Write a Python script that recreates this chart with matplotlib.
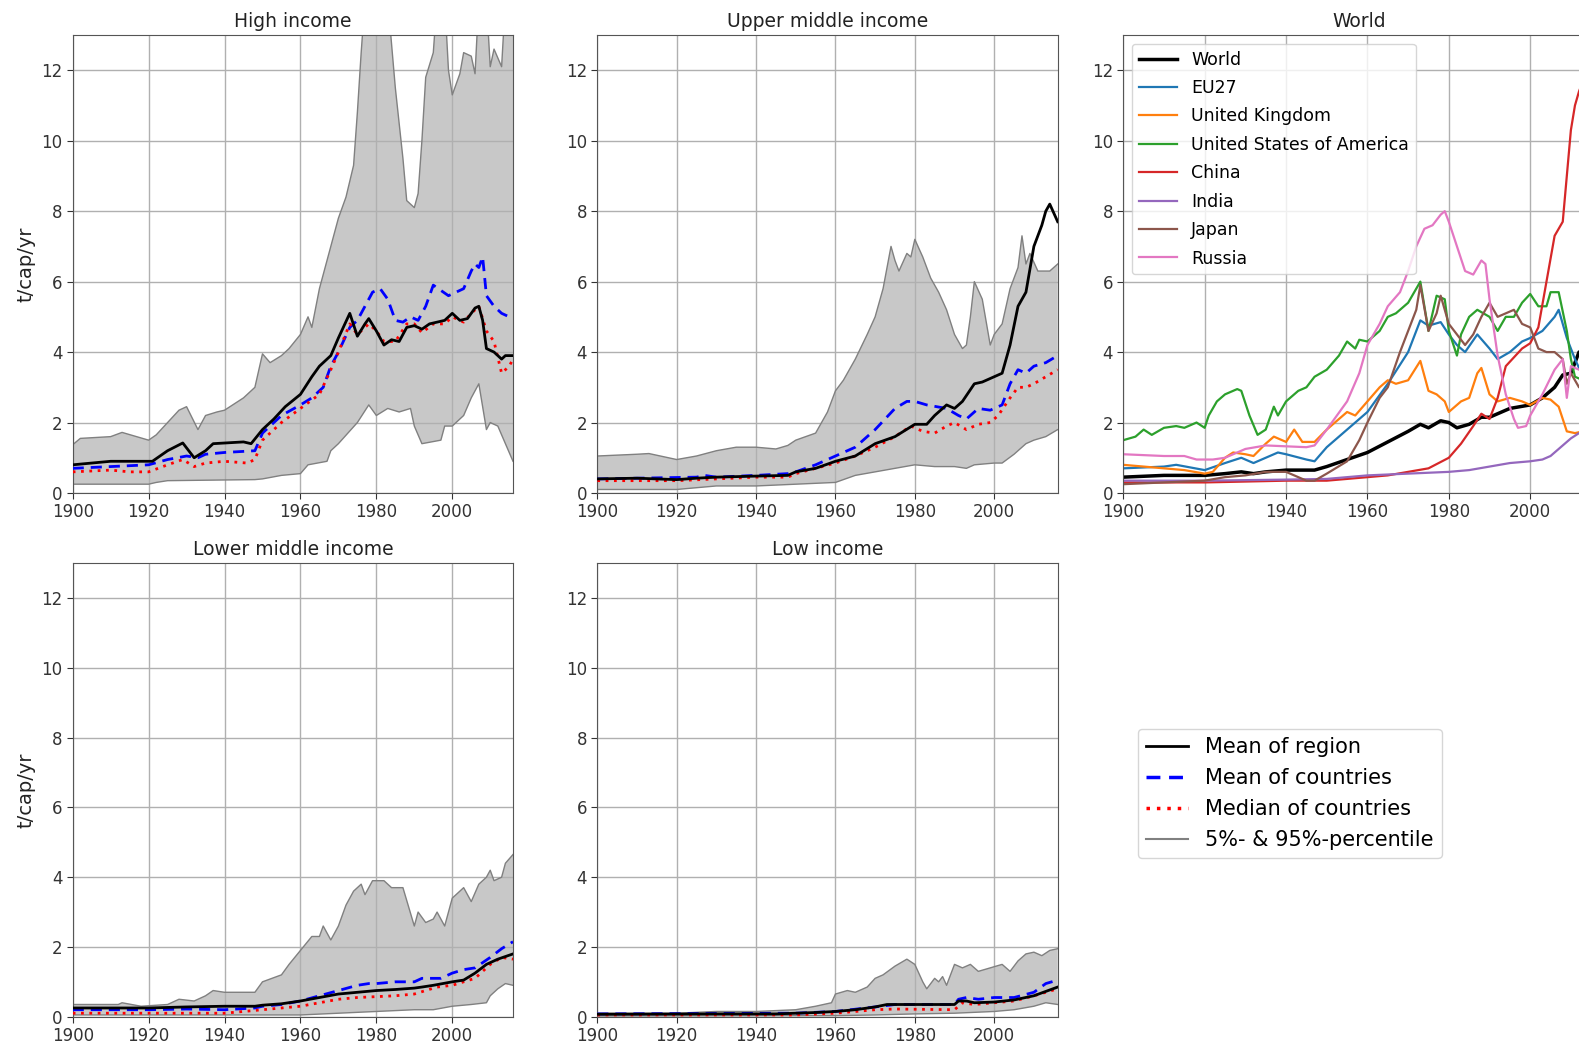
import numpy as np
import matplotlib
matplotlib.use("Agg")
import matplotlib.pyplot as plt
from matplotlib.lines import Line2D

# ---- data: (year, t/cap/yr) ----
hi_p95 = [(1900, 1.37), (1902, 1.55), (1910, 1.6), (1913, 1.72), (1920, 1.5), (1922, 1.65), (1925, 2.0),
          (1928, 2.35), (1930, 2.45), (1933, 1.8), (1935, 2.2), (1938, 2.3), (1940, 2.35), (1945, 2.7),
          (1948, 3.0), (1950, 3.95), (1952, 3.7), (1955, 3.9), (1957, 4.1), (1960, 4.5), (1962, 5.0),
          (1963, 4.7), (1965, 5.8), (1967, 6.6), (1968, 7.0), (1970, 7.8), (1972, 8.4), (1974, 9.3),
          (1975, 10.8), (1976, 12.5), (1977, 14.0), (1983, 14.0), (1985, 11.5), (1987, 9.5), (1988, 8.3),
          (1990, 8.1), (1991, 8.5), (1992, 10.0), (1993, 11.8), (1995, 12.5), (1996, 14.0), (1998, 14.0),
          (1999, 12.0), (2000, 11.3), (2001, 11.6), (2002, 11.9), (2003, 12.5), (2005, 12.4), (2006, 11.9),
          (2007, 14.0), (2009, 14.0), (2010, 12.1), (2011, 12.6), (2013, 12.1), (2014, 14.0), (2016, 14.0)]
hi_p5 = [(1900, 0.25), (1920, 0.25), (1922, 0.3), (1925, 0.35), (1948, 0.38), (1950, 0.4), (1955, 0.5),
         (1960, 0.55), (1962, 0.8), (1967, 0.9), (1968, 1.2), (1970, 1.4), (1975, 2.0), (1978, 2.5),
         (1980, 2.2), (1983, 2.4), (1986, 2.3), (1989, 2.4), (1990, 1.9), (1992, 1.4), (1997, 1.5),
         (1998, 1.9), (2000, 1.9), (2003, 2.2), (2005, 2.7), (2007, 3.1), (2009, 1.8), (2010, 2.0),
         (2012, 1.9), (2014, 1.4), (2016, 0.9)]
hi_region = [(1900, 0.8), (1910, 0.9), (1921, 0.9), (1925, 1.2), (1929, 1.42), (1932, 1.0), (1935, 1.2),
             (1937, 1.4), (1945, 1.45), (1947, 1.4), (1950, 1.8), (1953, 2.1), (1956, 2.45), (1960, 2.8),
             (1963, 3.3), (1965, 3.6), (1968, 3.9), (1970, 4.4), (1973, 5.1), (1975, 4.45), (1977, 4.8),
             (1978, 4.95), (1980, 4.6), (1982, 4.2), (1984, 4.35), (1986, 4.3), (1988, 4.7), (1990, 4.75),
             (1992, 4.65), (1994, 4.8), (1996, 4.85), (1998, 4.9), (2000, 5.1), (2002, 4.9), (2004, 4.95),
             (2006, 5.25), (2007, 5.3), (2008, 4.9), (2009, 4.1), (2011, 4.0), (2013, 3.8), (2014, 3.9),
             (2016, 3.9)]
hi_mean = [(1900, 0.7), (1920, 0.8), (1925, 0.95), (1930, 1.05), (1933, 1.0), (1935, 1.1), (1940, 1.15),
           (1948, 1.2), (1950, 1.7), (1955, 2.2), (1960, 2.5), (1963, 2.7), (1966, 3.0), (1968, 3.6),
           (1970, 4.0), (1973, 4.7), (1975, 4.9), (1977, 5.3), (1979, 5.7), (1981, 5.8), (1983, 5.5),
           (1985, 4.9), (1987, 4.85), (1989, 5.0), (1991, 4.9), (1993, 5.3), (1995, 5.9), (1997, 5.75),
           (1999, 5.6), (2001, 5.7), (2003, 5.8), (2005, 6.3), (2006, 6.5), (2007, 6.4), (2008, 6.7),
           (2009, 5.6), (2011, 5.3), (2013, 5.1), (2016, 4.95)]
hi_median = [(1900, 0.6), (1910, 0.65), (1915, 0.6), (1920, 0.6), (1925, 0.8), (1929, 0.95), (1932, 0.75),
             (1935, 0.85), (1940, 0.9), (1946, 0.85), (1948, 0.95), (1950, 1.5), (1955, 2.0), (1960, 2.4),
             (1965, 2.8), (1968, 3.5), (1970, 4.0), (1973, 4.8), (1975, 4.5), (1978, 4.8), (1980, 4.6),
             (1982, 4.3), (1985, 4.3), (1988, 4.8), (1990, 4.8), (1992, 4.55), (1995, 4.8), (1998, 4.8),
             (2000, 5.0), (2003, 4.85), (2005, 5.1), (2007, 5.3), (2009, 4.6), (2011, 4.3), (2013, 3.4),
             (2015, 3.6), (2016, 3.8)]

umi_p95 = [(1900, 1.05), (1910, 1.1), (1913, 1.12), (1920, 0.95), (1925, 1.05), (1930, 1.2), (1935, 1.3),
           (1940, 1.3), (1945, 1.25), (1948, 1.35), (1950, 1.5), (1955, 1.7), (1958, 2.3), (1960, 2.9),
           (1962, 3.2), (1965, 3.8), (1968, 4.5), (1970, 5.0), (1972, 5.8), (1974, 7.0), (1975, 6.6),
           (1976, 6.3), (1978, 6.8), (1979, 6.7), (1980, 7.2), (1982, 6.7), (1984, 6.1), (1986, 5.7),
           (1988, 5.2), (1990, 4.5), (1992, 4.1), (1993, 4.2), (1994, 5.0), (1995, 6.0), (1997, 5.5),
           (1999, 4.2), (2000, 4.5), (2002, 4.8), (2004, 5.8), (2006, 6.4), (2007, 7.3), (2008, 6.5),
           (2009, 6.8), (2011, 6.3), (2014, 6.3), (2016, 6.5)]
umi_p5 = [(1900, 0.1), (1920, 0.1), (1930, 0.2), (1940, 0.2), (1950, 0.25), (1960, 0.3), (1965, 0.5),
          (1970, 0.6), (1975, 0.7), (1980, 0.8), (1985, 0.75), (1990, 0.75), (1993, 0.7), (1995, 0.8),
          (2000, 0.85), (2002, 0.85), (2005, 1.1), (2008, 1.4), (2010, 1.5), (2013, 1.6), (2016, 1.8)]
umi_region = [(1900, 0.4), (1910, 0.42), (1920, 0.38), (1925, 0.42), (1930, 0.45), (1940, 0.48), (1948, 0.5),
              (1950, 0.6), (1955, 0.7), (1960, 0.9), (1965, 1.05), (1970, 1.4), (1975, 1.6), (1980, 1.95),
              (1983, 1.95), (1985, 2.2), (1988, 2.5), (1990, 2.4), (1992, 2.6), (1995, 3.1), (1997, 3.15),
              (2000, 3.3), (2002, 3.4), (2004, 4.2), (2006, 5.3), (2008, 5.7), (2010, 7.0), (2012, 7.6),
              (2013, 8.0), (2014, 8.2), (2016, 7.7)]
umi_mean = [(1900, 0.4), (1925, 0.45), (1927, 0.5), (1930, 0.45), (1940, 0.5), (1948, 0.55), (1950, 0.6),
            (1955, 0.8), (1960, 1.05), (1965, 1.3), (1970, 1.8), (1975, 2.4), (1978, 2.6), (1980, 2.6),
            (1983, 2.5), (1988, 2.4), (1991, 2.2), (1993, 2.1), (1996, 2.4), (1999, 2.35), (2002, 2.5),
            (2004, 3.1), (2006, 3.5), (2008, 3.4), (2010, 3.6), (2013, 3.7), (2016, 3.9)]
umi_median = [(1900, 0.35), (1920, 0.35), (1930, 0.4), (1940, 0.45), (1948, 0.45), (1950, 0.55), (1955, 0.7),
              (1960, 0.85), (1965, 1.05), (1970, 1.3), (1975, 1.6), (1979, 1.9), (1982, 1.75), (1985, 1.7),
              (1988, 1.9), (1990, 2.0), (1993, 1.8), (1996, 1.95), (1999, 2.0), (2001, 2.2), (2004, 2.7),
              (2006, 3.0), (2008, 3.0), (2010, 3.1), (2013, 3.3), (2016, 3.5)]

lmi_p95 = [(1900, 0.35), (1912, 0.35), (1913, 0.4), (1918, 0.3), (1925, 0.35), (1928, 0.5), (1932, 0.45),
           (1935, 0.6), (1937, 0.75), (1940, 0.7), (1948, 0.7), (1950, 1.0), (1955, 1.2), (1957, 1.5),
           (1960, 1.9), (1963, 2.3), (1965, 2.3), (1966, 2.6), (1968, 2.2), (1970, 2.6), (1972, 3.2),
           (1974, 3.6), (1976, 3.8), (1977, 3.5), (1979, 3.9), (1982, 3.9), (1984, 3.7), (1987, 3.7),
           (1990, 2.6), (1991, 3.0), (1993, 2.7), (1995, 2.8), (1996, 3.0), (1998, 2.6), (2000, 3.4),
           (2002, 3.6), (2003, 3.7), (2005, 3.3), (2007, 3.8), (2009, 4.0), (2010, 4.2), (2011, 3.9),
           (2013, 4.0), (2014, 4.4), (2016, 4.65)]
lmi_p5 = [(1900, 0.05), (1960, 0.05), (1970, 0.1), (1980, 0.15), (1990, 0.2), (1995, 0.2), (2000, 0.3),
          (2005, 0.35), (2009, 0.4), (2010, 0.6), (2012, 0.8), (2014, 0.95), (2016, 0.9)]
lmi_region = [(1900, 0.25), (1920, 0.25), (1930, 0.28), (1940, 0.3), (1948, 0.3), (1950, 0.33), (1955, 0.37),
              (1960, 0.45), (1965, 0.55), (1970, 0.65), (1975, 0.7), (1980, 0.75), (1985, 0.78), (1990, 0.82),
              (1992, 0.85), (1995, 0.9), (2000, 1.0), (2003, 1.05), (2006, 1.25), (2009, 1.5), (2012, 1.65),
              (2016, 1.8)]
lmi_mean = [(1900, 0.2), (1920, 0.2), (1930, 0.22), (1940, 0.2), (1948, 0.25), (1950, 0.3), (1955, 0.35),
            (1960, 0.45), (1965, 0.6), (1970, 0.75), (1975, 0.9), (1978, 0.95), (1980, 0.95), (1985, 1.0),
            (1990, 1.0), (1992, 1.1), (1997, 1.1), (2000, 1.25), (2003, 1.35), (2006, 1.4), (2010, 1.7),
            (2013, 1.95), (2016, 2.15)]
lmi_median = [(1900, 0.1), (1940, 0.1), (1950, 0.2), (1960, 0.3), (1965, 0.4), (1970, 0.5), (1975, 0.55),
              (1985, 0.6), (1990, 0.65), (1993, 0.75), (1996, 0.85), (2000, 0.9), (2003, 1.0), (2006, 1.1),
              (2010, 1.5), (2013, 1.7), (2016, 1.65)]

li_p95 = [(1900, 0.1), (1920, 0.1), (1930, 0.15), (1940, 0.15), (1950, 0.2), (1955, 0.3), (1959, 0.4),
          (1960, 0.65), (1963, 0.75), (1965, 0.7), (1968, 0.85), (1970, 1.1), (1972, 1.2), (1975, 1.45),
          (1978, 1.65), (1980, 1.5), (1982, 1.0), (1983, 0.8), (1985, 1.1), (1986, 1.0), (1987, 1.15),
          (1988, 0.9), (1990, 1.5), (1992, 1.4), (1994, 1.5), (1996, 1.3), (1999, 1.4), (2002, 1.5),
          (2004, 1.3), (2006, 1.6), (2008, 1.8), (2010, 1.85), (2012, 1.75), (2014, 1.9), (2016, 1.95)]
li_p5 = [(1900, 0.02), (1960, 0.03), (1970, 0.05), (1980, 0.08), (1990, 0.1), (2000, 0.15), (2005, 0.2),
         (2010, 0.3), (2013, 0.4), (2016, 0.35)]
li_region = [(1900, 0.07), (1930, 0.08), (1945, 0.08), (1950, 0.1), (1955, 0.12), (1960, 0.15), (1965, 0.2),
             (1970, 0.28), (1973, 0.35), (1990, 0.35), (1991, 0.45), (1993, 0.45), (1995, 0.4), (2000, 0.42),
             (2005, 0.48), (2010, 0.6), (2016, 0.85)]
li_mean = [(1900, 0.08), (1950, 0.1), (1960, 0.15), (1970, 0.28), (1975, 0.35), (1990, 0.35), (1991, 0.5),
           (1993, 0.55), (1996, 0.5), (2000, 0.55), (2005, 0.55), (2010, 0.7), (2013, 0.95), (2016, 1.05)]
li_median = [(1900, 0.05), (1950, 0.05), (1960, 0.1), (1970, 0.2), (1975, 0.22), (1990, 0.2), (1992, 0.4),
             (1995, 0.35), (2000, 0.4), (2005, 0.45), (2010, 0.6), (2016, 0.8)]

w_world = [(1900, 0.45), (1910, 0.5), (1920, 0.5), (1925, 0.55), (1929, 0.6), (1932, 0.55), (1935, 0.6),
           (1940, 0.65), (1947, 0.65), (1950, 0.75), (1955, 0.95), (1960, 1.15), (1965, 1.45), (1970, 1.75),
           (1973, 1.95), (1975, 1.85), (1978, 2.05), (1980, 2.0), (1982, 1.85), (1985, 1.95), (1988, 2.15),
           (1990, 2.15), (1993, 2.3), (1995, 2.4), (2000, 2.5), (2003, 2.7), (2006, 3.0), (2008, 3.35),
           (2010, 3.4), (2012, 4.0), (2016, 4.1)]
w_eu27 = [(1900, 0.7), (1910, 0.75), (1913, 0.8), (1920, 0.65), (1925, 0.85), (1929, 1.0), (1932, 0.85),
          (1935, 1.0), (1938, 1.15), (1940, 1.1), (1945, 0.95), (1947, 0.9), (1950, 1.3), (1955, 1.8),
          (1960, 2.3), (1965, 3.1), (1970, 4.0), (1973, 4.9), (1975, 4.75), (1978, 4.85), (1980, 4.5),
          (1982, 4.2), (1984, 4.0), (1987, 4.5), (1990, 4.1), (1992, 3.8), (1995, 4.0), (1998, 4.3),
          (2000, 4.4), (2003, 4.6), (2006, 5.0), (2007, 5.2), (2009, 4.4), (2011, 3.8), (2013, 3.3),
          (2016, 3.3)]
w_uk = [(1900, 0.8), (1905, 0.75), (1910, 0.7), (1915, 0.65), (1920, 0.55), (1922, 0.6), (1925, 1.0),
        (1927, 1.15), (1930, 1.1), (1932, 1.05), (1935, 1.4), (1937, 1.6), (1940, 1.45), (1942, 1.8),
        (1944, 1.45), (1947, 1.45), (1950, 1.8), (1955, 2.3), (1957, 2.2), (1960, 2.6), (1963, 3.0),
        (1965, 3.2), (1967, 3.1), (1970, 3.2), (1973, 3.75), (1975, 2.9), (1977, 2.8), (1979, 2.6),
        (1980, 2.3), (1983, 2.6), (1985, 2.7), (1987, 3.4), (1988, 3.55), (1990, 2.8), (1992, 2.6),
        (1995, 2.7), (1998, 2.6), (2000, 2.5), (2003, 2.7), (2005, 2.65), (2007, 2.45), (2009, 1.75),
        (2011, 1.7), (2013, 1.75), (2016, 1.7)]
w_usa = [(1900, 1.5), (1903, 1.6), (1905, 1.8), (1907, 1.65), (1910, 1.85), (1913, 1.9), (1915, 1.85),
         (1918, 2.0), (1920, 1.85), (1921, 2.2), (1923, 2.6), (1925, 2.8), (1928, 2.95), (1929, 2.9),
         (1931, 2.2), (1933, 1.65), (1935, 1.8), (1937, 2.45), (1938, 2.2), (1940, 2.6), (1943, 2.9),
         (1945, 3.0), (1947, 3.3), (1950, 3.5), (1953, 3.9), (1955, 4.3), (1957, 4.1), (1958, 4.35),
         (1960, 4.3), (1963, 4.6), (1965, 5.0), (1967, 5.1), (1970, 5.4), (1973, 6.0), (1975, 4.6),
         (1977, 5.6), (1979, 5.5), (1980, 4.6), (1982, 3.9), (1983, 4.5), (1985, 5.0), (1987, 5.2),
         (1990, 5.0), (1992, 4.6), (1994, 5.0), (1996, 5.0), (1998, 5.4), (2000, 5.65), (2002, 5.3),
         (2004, 5.3), (2005, 5.7), (2007, 5.7), (2009, 4.6), (2010, 3.8), (2011, 3.3), (2013, 3.2),
         (2016, 3.2)]
w_china = [(1900, 0.3), (1920, 0.3), (1940, 0.35), (1950, 0.35), (1955, 0.4), (1960, 0.45), (1965, 0.5),
           (1970, 0.6), (1975, 0.7), (1980, 1.0), (1983, 1.4), (1986, 1.9), (1988, 2.25), (1990, 2.1),
           (1992, 2.7), (1994, 3.6), (1996, 3.85), (1998, 4.1), (2000, 4.25), (2002, 4.7), (2004, 6.0),
           (2006, 7.3), (2008, 7.7), (2010, 10.3), (2011, 11.0), (2012, 11.4), (2014, 12.0), (2016, 12.2)]
w_india = [(1900, 0.35), (1920, 0.35), (1940, 0.38), (1950, 0.4), (1960, 0.5), (1970, 0.55), (1980, 0.6),
           (1985, 0.65), (1990, 0.75), (1995, 0.85), (2000, 0.9), (2003, 0.95), (2005, 1.05), (2008, 1.35),
           (2010, 1.55), (2012, 1.7), (2016, 1.9)]
w_japan = [(1900, 0.25), (1910, 0.3), (1920, 0.35), (1925, 0.45), (1930, 0.5), (1935, 0.6), (1940, 0.6),
           (1943, 0.45), (1945, 0.35), (1947, 0.35), (1950, 0.55), (1955, 0.9), (1958, 1.5), (1960, 2.0),
           (1963, 2.7), (1965, 3.0), (1968, 4.0), (1970, 4.6), (1972, 5.2), (1973, 5.9), (1975, 4.6),
           (1977, 5.1), (1978, 5.6), (1980, 4.8), (1982, 4.5), (1984, 4.2), (1986, 4.5), (1988, 5.0),
           (1990, 5.4), (1992, 5.0), (1994, 5.1), (1996, 5.2), (1998, 4.8), (2000, 4.7), (2002, 4.1),
           (2004, 4.0), (2006, 4.0), (2008, 3.8), (2009, 3.1), (2010, 3.4), (2012, 3.0), (2016, 3.1)]
w_russia = [(1900, 1.1), (1910, 1.05), (1915, 1.05), (1918, 0.95), (1922, 0.95), (1925, 1.0), (1930, 1.25),
            (1935, 1.35), (1945, 1.3), (1947, 1.35), (1950, 1.8), (1955, 2.6), (1958, 3.4), (1960, 4.2),
            (1963, 4.8), (1965, 5.3), (1968, 5.7), (1970, 6.3), (1972, 7.0), (1974, 7.5), (1976, 7.6),
            (1978, 7.9), (1979, 8.0), (1980, 7.7), (1982, 7.0), (1984, 6.3), (1986, 6.2), (1988, 6.6),
            (1989, 6.5), (1990, 5.5), (1992, 3.9), (1994, 2.8), (1996, 2.1), (1997, 1.85), (1999, 1.9),
            (2000, 2.2), (2003, 2.8), (2006, 3.5), (2008, 3.8), (2009, 2.7), (2010, 3.6), (2012, 3.5),
            (2016, 3.4)]

income_titles = ["High income", "Upper middle income", "Lower middle income", "Low income"]
income_data = [
    (hi_p5, hi_p95, hi_region, hi_mean, hi_median),
    (umi_p5, umi_p95, umi_region, umi_mean, umi_median),
    (lmi_p5, lmi_p95, lmi_region, lmi_mean, lmi_median),
    (li_p5, li_p95, li_region, li_mean, li_median),
]
world_names = ["World", "EU27", "United Kingdom", "United States of America", "China", "India", "Japan", "Russia"]
world_series = [w_world, w_eu27, w_uk, w_usa, w_china, w_india, w_japan, w_russia]
world_colors = ["black", "tab:blue", "tab:orange", "tab:green", "tab:red", "tab:purple", "tab:brown", "tab:pink"]


def xy(pairs):
    x, y = zip(*pairs)
    return np.array(x), np.array(y)


def style(ax, title, ylabel=False):
    ax.set_xlim(1900, 2016)
    ax.set_ylim(0, 13)
    ax.set_xticks([1900, 1920, 1940, 1960, 1980, 2000])
    ax.set_yticks([0, 2, 4, 6, 8, 10, 12])
    ax.grid(True, color="#b0b0b0", lw=1)
    ax.tick_params(labelsize=12, colors="#333333", length=4)
    for s in ax.spines.values():
        s.set_color("#555555")
    ax.set_title(title, fontsize=13.5, color="#222222", pad=6)
    if ylabel:
        ax.set_ylabel("t/cap/yr", fontsize=14, color="#222222")


W, H = 1579, 1050
fig = plt.figure(figsize=(W / 100, H / 100), dpi=100)


def px_axes(l, r, t, b):
    return fig.add_axes([l / W, 1 - b / H, (r - l) / W, (b - t) / H])


positions = [(72.7, 513, 35, 493), (597.3, 1057.7, 35, 493),
             (72.7, 513, 563.3, 1016.7), (597.3, 1057.7, 563.3, 1016.7)]

for (l, r, t, b), title, (p5, p95, reg, mean, med) in zip(positions, income_titles, income_data):
    ax = px_axes(l, r, t, b)
    xu, yu = xy(p95)
    xl, yl = xy(p5)
    ax.fill(np.concatenate([xu, xl[::-1]]), np.concatenate([yu, yl[::-1]]),
            color="#c8c8c8", lw=0, zorder=1)
    ax.plot(xu, yu, color="gray", lw=1, zorder=2)
    ax.plot(xl, yl, color="gray", lw=1, zorder=2)
    ax.plot(*xy(reg), color="black", lw=2, zorder=4)
    ax.plot(*xy(mean), color="blue", lw=2, ls=(0, (4, 2.5)), zorder=3)
    ax.plot(*xy(med), color="red", lw=2, ls=(0, (1, 2)), zorder=3)
    style(ax, title, ylabel=(l < 100))

# world panel (extends past the right edge, as in the reference)
axw = px_axes(1123.3, 1595.3, 35, 493)
for name, s, c in zip(world_names, world_series, world_colors):
    axw.plot(*xy(s), color=c, lw=2.5 if name == "World" else 1.6, label=name)
style(axw, "World")
axw.legend(loc="upper left", fontsize=12.5, handlelength=2.2, labelspacing=0.6, borderpad=0.4)

handles = [Line2D([], [], color="black", lw=2),
           Line2D([], [], color="blue", lw=2.5, ls=(0, (4, 2.5))),
           Line2D([], [], color="red", lw=2.5, ls=(0, (1, 2))),
           Line2D([], [], color="gray", lw=1.5)]
labels = ["Mean of region", "Mean of countries", "Median of countries", "5%- & 95%-percentile"]
fig.legend(handles, labels, loc="upper left", bbox_to_anchor=(1138 / W, 1 - 729 / H),
           borderaxespad=0, fontsize=15, handlelength=2.0, labelspacing=0.52, borderpad=0.4)

fig.savefig("out.png", dpi=100)
